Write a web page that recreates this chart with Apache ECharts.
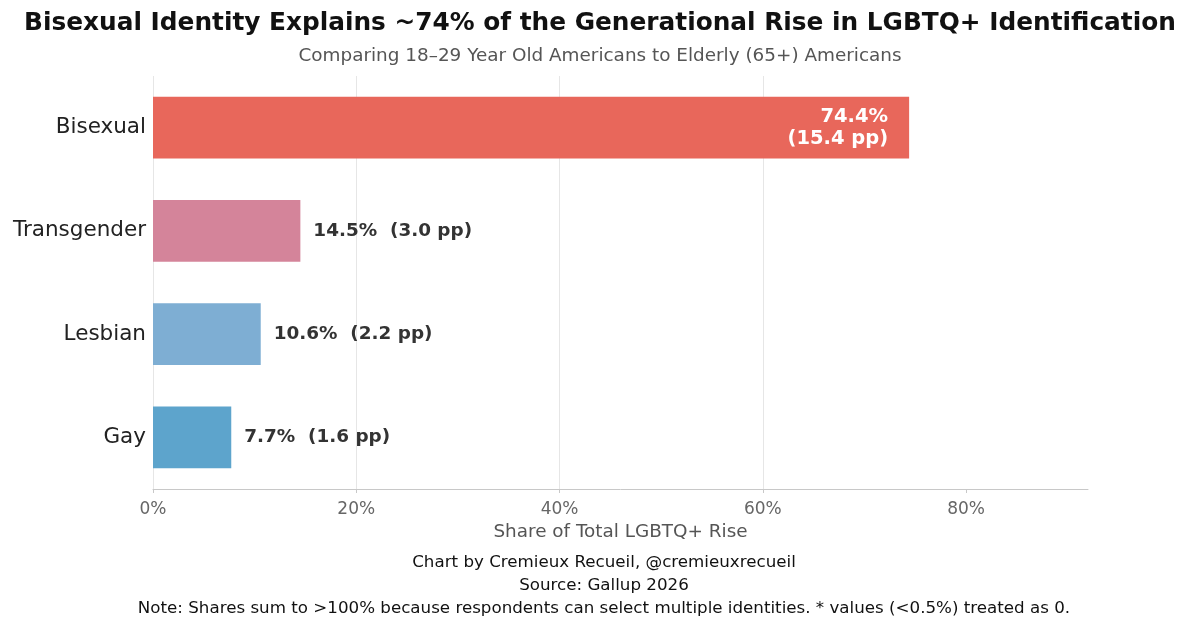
<!DOCTYPE html>
<html>
<head>
<meta charset="utf-8">
<script src="https://cdn.jsdelivr.net/npm/echarts@6/dist/echarts.min.js"></script>
<style>
html,body{margin:0;padding:0;background:#fff;}
#chart{width:1200px;height:631px;}
</style>
</head>
<body>
<div id="chart"></div>
<script>
const categories = ["Bisexual", "Transgender", "Lesbian", "Gay"];
const shareValues = [74.4, 14.5, 10.6, 7.7];
const ppValues = [15.4, 3.0, 2.2, 1.6];
const barColors = ["#E8675B", "#D4849A", "#7EAED3", "#5DA4CC"];
const xTicks = [0, 20, 40, 60, 80];
const footerLines = [
  "Chart by Cremieux Recueil, @cremieuxrecueil",
  "Source: Gallup 2026",
  "Note: Shares sum to >100% because respondents can select multiple identities. * values (<0.5%) treated as 0."
];

const FONT = "DejaVu Sans";
const chart = echarts.init(document.getElementById('chart'), null, {renderer: 'canvas'});

const data = shareValues.map((v, i) => {
  const item = {value: v, itemStyle: {color: barColors[i]}};
  if (i === 0) {
    item.label = {
      show: true, position: 'insideRight', distance: 21,
      color: '#fff', fontSize: 19.5, fontWeight: 'bold', fontFamily: FONT,
      align: 'right', lineHeight: 22,
      formatter: () => v.toFixed(1) + '%\n(' + ppValues[i].toFixed(1) + ' pp)'
    };
  }
  return item;
});

chart.setOption({
  animation: false,
  backgroundColor: '#fff',
  title: [
    {text: 'Bisexual Identity Explains ~74% of the Generational Rise in LGBTQ+ Identification',
     left: 'center', top: 6,
     textStyle: {fontFamily: FONT, fontSize: 24.8, fontWeight: 'bold', color: '#111'}},
    {text: 'Comparing 18\u201329 Year Old Americans to Elderly (65+) Americans',
     left: 'center', top: 42,
     textStyle: {fontFamily: FONT, fontSize: 18.4, fontWeight: 'normal', color: '#555'}}
  ],
  graphic: footerLines.map((t, i) => ({
    type: 'text', x: 604, y: 563 + i * 23,
    style: {text: t, fontFamily: FONT, fontSize: 16.7, fill: '#111', align: 'center', verticalAlign: 'middle'}
  })),
  grid: {left: 153, right: 112, top: 76, bottom: 142, containLabel: false},
  xAxis: {
    type: 'value', min: 0, max: 92, interval: 20,
    axisLine: {show: true, lineStyle: {color: '#c8c8c8', width: 1}},
    axisTick: {show: true, length: 4, lineStyle: {color: '#c8c8c8'}, customValues: xTicks},
    splitLine: {show: true, showMaxLine: false, lineStyle: {color: '#e6e6e6', width: 1}},
    axisLabel: {fontFamily: FONT, fontSize: 17, color: '#666', margin: 12,
      customValues: xTicks, formatter: (v) => v + '%'},
    name: 'Share of Total LGBTQ+ Rise', nameLocation: 'middle', nameGap: 33,
    nameTextStyle: {fontFamily: FONT, fontSize: 18.4, color: '#555'}
  },
  yAxis: {
    type: 'category', data: categories, inverse: true,
    axisLine: {show: false}, axisTick: {show: false},
    axisLabel: {fontFamily: FONT, fontSize: 21.5, color: '#222', margin: 7}
  },
  series: [{
    type: 'bar', data: data, barWidth: '60%',
    label: {
      show: true, position: 'right', distance: 13,
      fontFamily: FONT, fontSize: 18.4, fontWeight: 'bold', color: '#333',
      formatter: (p) => p.value.toFixed(1) + '%  (' + ppValues[p.dataIndex].toFixed(1) + ' pp)'
    }
  }]
});
</script>
</body>
</html>
